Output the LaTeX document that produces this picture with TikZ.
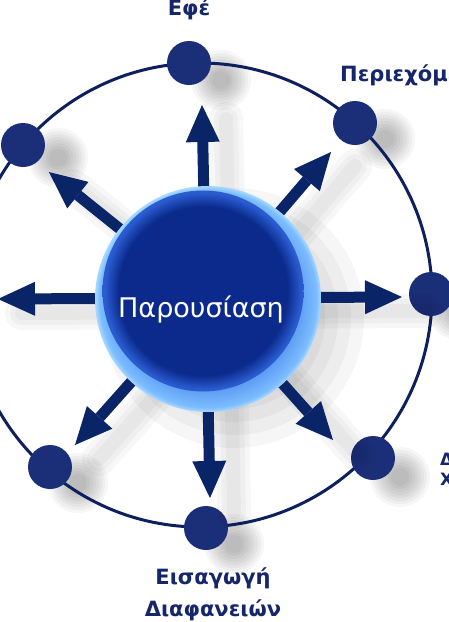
\documentclass[tikz,border=0pt]{standalone}
\usepackage{fontspec}
\setmainfont{DejaVu Sans}
\newfontfamily\labfont{DejaVu Sans Bold}
\newfontfamily\titlefont{DejaVu Sans}
\usetikzlibrary{arrows.meta}
\definecolor{ringc}{HTML}{0E1F5E}
\definecolor{dotc}{HTML}{1B2E78}
\definecolor{arrc}{HTML}{0A2468}
\definecolor{labc}{HTML}{15266A}
\definecolor{obin}{HTML}{2C6AE0}
\definecolor{obout}{HTML}{7CBCFF}
\definecolor{obrim}{HTML}{A8DAFF}
\definecolor{innav}{HTML}{0B2A8C}
\definecolor{inedge}{HTML}{2A5CD0}
\pgfdeclareradialshading{outerdisc}{\pgfpoint{0bp}{0bp}}{color(0bp)=(obin); color(14bp)=(obin); color(24bp)=(obout); color(25bp)=(obrim); color(50bp)=(obrim)}
\pgfdeclareradialshading{innerdisc}{\pgfpoint{0bp}{0bp}}{color(0bp)=(innav); color(21bp)=(innav); color(24.5bp)=(inedge); color(25bp)=(inedge); color(50bp)=(inedge)}
\newcommand\mysoft[3]{%
  \foreach \k in {1,...,8}{\fill[black,opacity=0.035] (#1,#2) circle[radius={#3pt*(1.1-\k*0.1)}];}}
\begin{document}
\begin{tikzpicture}[x=1pt,y=-1pt,
  dot/.style={circle,fill=dotc,minimum size=44pt,inner sep=0pt},
  arr/.style={draw=arrc,line width=11pt,-{Triangle[width=34pt 0 0,length=37pt 0 0,line width=0pt]}},
  arrshadow/.style={draw=black,opacity=0.03,line cap=round},
  lab/.style={text=labc,font=\fontsize{21}{32}\labfont,inner sep=0pt}]
\useasboundingbox (0,0) rectangle (449,622);
\fill[white] (0,0) rectangle (449,622);
% soft shadows
\mysoft{234}{318}{130}
\mysoft{221}{80}{30}
\mysoft{385}{139}{30}
\mysoft{458}{310}{30}
\mysoft{400}{477}{30}
\mysoft{234}{544}{30}
\mysoft{78}{483}{30}
\mysoft{58}{158}{30}
% ring
\draw[ringc,line width=3pt] (200,295) circle[radius=232pt];
% outer nodes
\node[dot] (n1) at (189,63) {};
\node[dot] (n2) at (355,123) {};
\node[dot] (n3) at (431,294) {};
\node[dot] (n4) at (373,458) {};
\node[dot] (n5) at (206,528) {};
\node[dot] (n6) at (50,467) {};
\node[dot] (n8) at (23,145) {};
% arrows
\coordinate (c) at (206,298);
\coordinate (t1) at (202,105);
\coordinate (t2) at (331,152);
\coordinate (t3) at (402,297);
\coordinate (t4) at (333,440);
\coordinate (t5) at (210,498);
\coordinate (t6) at (75,445);
\coordinate (t7) at (-2,299);
\coordinate (t8) at (49,172);
\begin{scope}[transform canvas={shift={(24,14)}}]
\foreach \t in {t1,t2,t3,t4,t5,t6,t7,t8}{
  \foreach \w in {34,24,14}{\draw[arrshadow,line width=\w pt] (c) -- (\t);}}
\end{scope}
\foreach \t in {t1,t2,t3,t4,t5,t6,t7,t8}{\draw[arr] (c) -- (\t);}
% central disc
\node[circle,minimum size=226pt,inner sep=0pt,shading=outerdisc] (disc) at (208,299) {};
\node[circle,minimum size=201pt,inner sep=0pt,shading=innerdisc] (core) at (203,291) {};
\node[text=white,font=\fontsize{27}{30}\titlefont,anchor=base,inner sep=0pt] (title) at (201,317) {Παρουσίαση};
% labels
\node[lab,anchor=base] (l1) at (189,15) {Εφέ};
\node[lab,anchor=base west] (l2) at (340,81) {Περιεχόμενο};
\node[lab,anchor=base west,align=left,font=\fontsize{17}{20}\labfont] (l4) at (440,485) {Διάταξη\\Χρώματα};
\node[lab,anchor=base,align=center] (l5) at (213,616) {Εισαγωγή\\Διαφανειών};
\end{tikzpicture}
\end{document}
